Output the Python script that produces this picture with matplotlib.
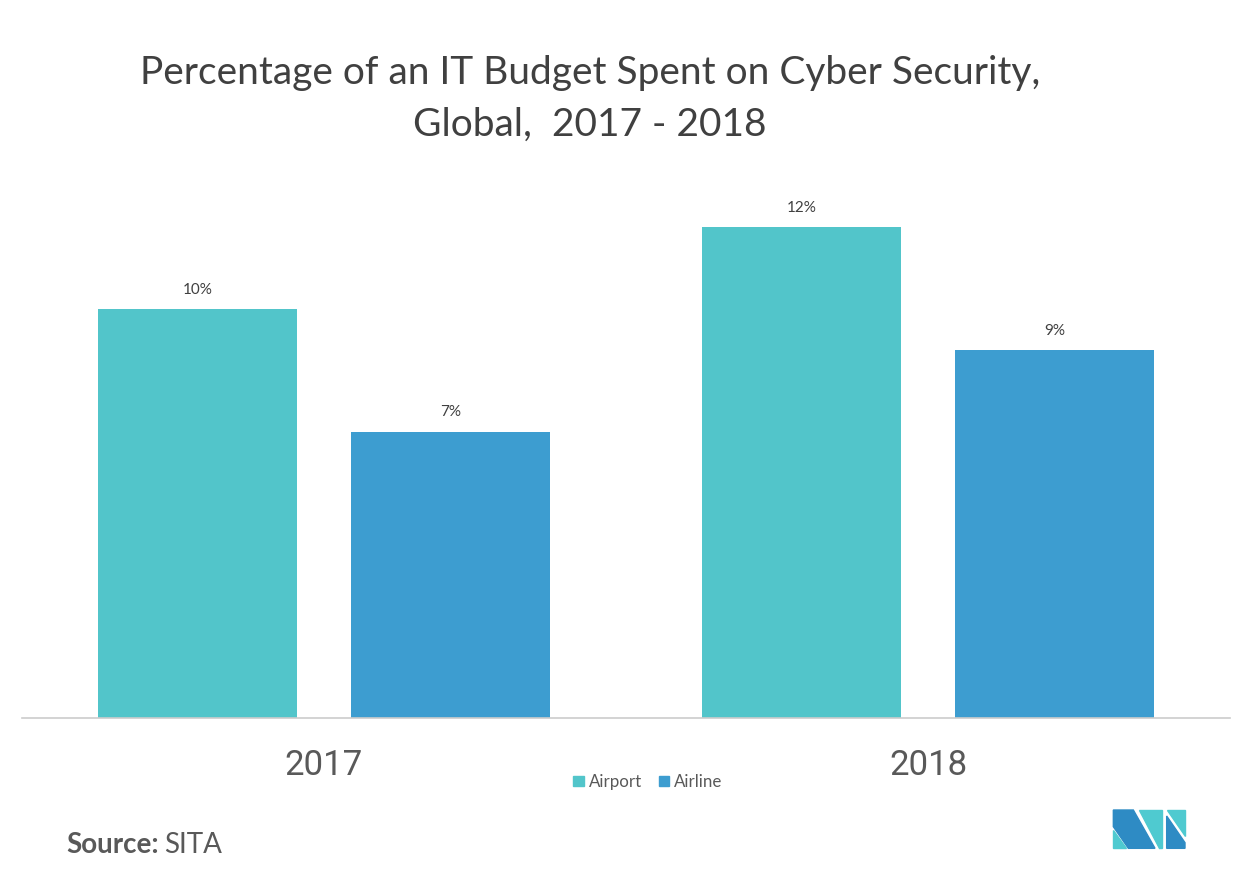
import matplotlib.pyplot as plt
from matplotlib.patches import Polygon, Patch

years = ["2017", "2018"]
airport = [10, 12]
airline = [7, 9]
series_names = ["Airport", "Airline"]
colors = ["#52C5CA", "#3D9DD0"]

plt.rcParams['font.family'] = ['Lato', 'DejaVu Sans']

fig = plt.figure(figsize=(12.53, 8.8), dpi=100)
W, H = 1253, 880
# axes: x 22..1230, y 180..718 (pixel coords from top)
ax = fig.add_axes([22 / W, 1 - 718 / H, (1230 - 22) / W, (718 - 180) / H])

x = list(range(len(years)))
w = 0.33
off = 0.2096
b1 = ax.bar([i - off for i in x], airport, width=w, color=colors[0])
b2 = ax.bar([i + off for i in x], airline, width=w, color=colors[1])

for bars, vals in ((b1, airport), (b2, airline)):
    for rect, v in zip(bars, vals):
        ax.text(rect.get_x() + rect.get_width() / 2, v + 0.3, f"{v}%",
                ha="center", va="bottom", fontsize=11, color="#404040")

ax.set_xlim(-0.5, 1.5)
ax.set_ylim(0, 13.15)
ax.set_yticks([])
ax.set_xticks(x)
ax.set_xticklabels(years, fontsize=25, color="#595959", family=['Roboto', 'DejaVu Sans'])
ax.tick_params(axis="x", length=0, pad=22)
for s in ("top", "right", "left"):
    ax.spines[s].set_visible(False)
ax.spines["bottom"].set_color("#cccccc")
ax.spines["bottom"].set_linewidth(1.2)

fig.text(0.471, 1 - 73 / H, "Percentage of an IT Budget Spent on Cyber Security,",
         ha="center", va="center", fontsize=28, color="#404040")
fig.text(0.471, 1 - 125 / H, "Global,  2017 - 2018",
         ha="center", va="center", fontsize=28, color="#404040")

handles = [Patch(color=c, label=n) for c, n in zip(colors, series_names)]
fig.legend(handles=handles, loc="center", bbox_to_anchor=(648 / W, 1 - 782 / H),
           ncol=2, frameon=False, fontsize=12.2, handlelength=0.6, handleheight=0.6,
           handletextpad=0.3, columnspacing=1.0, labelcolor="#595959")

src = fig.text(66 / W, 1 - 845 / H, "Source:", ha="left", va="center", fontsize=20,
               fontweight="bold", color="#595959")
fig.canvas.draw()
bb = src.get_window_extent().transformed(fig.transFigure.inverted())
fig.text(bb.x1 + 5 / W, 1 - 845 / H, "SITA", ha="left", va="center", fontsize=20,
         color="#595959")

# logo
def px(pts):
    return [((1105 + a / 3) / W, 1 - (800 + b / 3) / H) for a, b in pts]

dark, cyan = "#2E8BC4", "#4FCAD0"
logo = [
    (px([(25, 30), (85, 30), (150, 145), (70, 145), (25, 80)]), dark),
    (px([(25, 90), (25, 145), (62, 145)]), cyan),
    (px([(103, 30), (170, 30), (170, 145), (162, 145)]), cyan),
    (px([(185, 30), (240, 30), (240, 108)]), cyan),
    (px([(185, 48), (240, 128), (240, 145), (185, 145)]), dark),
]
for pts, c in logo:
    fig.patches.append(Polygon(pts, closed=True, color=c, transform=fig.transFigure))

fig.savefig("out.png", dpi=100)
